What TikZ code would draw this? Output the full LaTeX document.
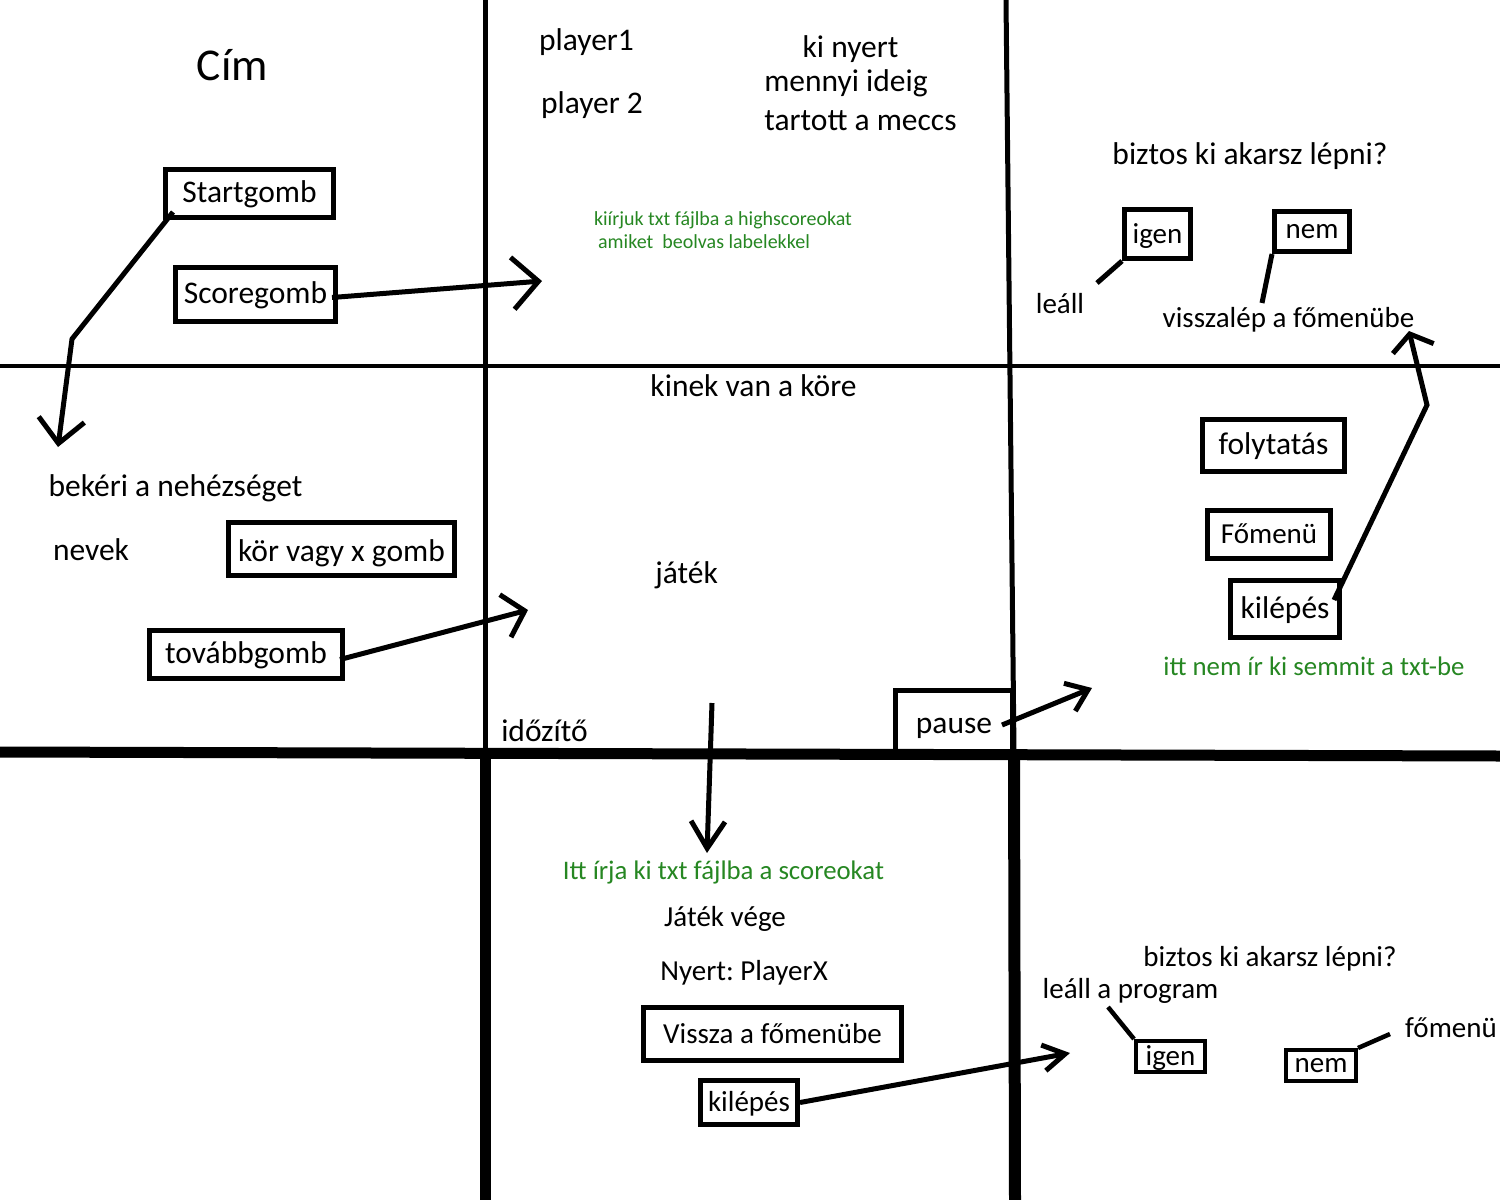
\documentclass[tikz,border=0pt]{standalone}
\usepackage{fontspec}
\setmainfont{Carlito}
\usetikzlibrary{arrows.meta,calc}
\definecolor{notegreen}{RGB}{38,135,34}
\frenchspacing
\begin{document}
\frenchspacing
\begin{tikzpicture}[x=1pt,y=-1pt,
  lbl/.style={anchor=base, inner sep=0pt, font=\fontsize{31.5}{36}\selectfont},
  lblsm/.style={anchor=base, inner sep=0pt, font=\fontsize{29}{34}\selectfont},
  note/.style={anchor=base, inner sep=0pt, text=notegreen, font=\fontsize{26.8}{31}\selectfont},
  btn/.style={draw, line width=5pt, inner sep=0pt, text height=24pt, text depth=6pt, font=\fontsize{31.5}{36}\selectfont},
  btnsm/.style={btn, font=\fontsize{29}{34}\selectfont},
  conn/.style={line width=5pt},
  arr/.style 2 args={-{Straight Barb[length=#1,width=#2]}},
  divider/.style={line width=#1}
]
\useasboundingbox (0,0) rectangle (1500,1200);
\fill[white] (0,0) rectangle (1500,1200);

% texts
\node[lbl, font=\fontsize{45.5}{52}\selectfont] (cim) at (232.5,80) {Cím};
\node[lbl] (p1) at (586.5,50) {player1};
\node[lbl] (p2) at (592,113) {player 2};
\node[lbl] (kinyert) at (850.5,57) {ki nyert};
\node[lbl] (ideig) at (846,91) {mennyi ideig};
\node[lbl] (meccs) at (860.5,130) {tartott a meccs};
\node[note, font=\fontsize{20}{24}\selectfont] (hs1) at (723,225) {kiírjuk txt fájlba a highscoreokat};
\node[note, font=\fontsize{20}{24}\selectfont] (hs2) at (704,248) {amiket\ \ beolvas labelekkel};
\node[lbl] (kore) at (753.5,396) {kinek van a köre};
\node[lbl] (jatek) at (686.6,583) {játék};
\node[lbl] (idozito) at (544.5,741) {időzítő};
\node[lbl] (nehez) at (175.5,496) {bekéri a nehézséget};
\node[lbl] (nevek) at (91,560) {nevek};
\node[lbl] (biztos1) at (1250,164) {biztos ki akarsz lépni?};
\node[lblsm] (leall) at (1060,313) {leáll};
\node[lblsm] (vissza1) at (1288.5,327) {visszalép a főmenübe};
\node[note] (nemir) at (1314,675) {itt nem ír ki semmit a txt-be};
\node[note] (irja) at (723.5,879) {Itt írja ki txt fájlba a scoreokat};
\node[lblsm] (vege) at (725,926.7) {Játék vége};
\node[lblsm] (nyert) at (744,980.7) {Nyert: PlayerX};
\node[lblsm] (biztos2) at (1270,966.7) {biztos ki akarsz lépni?};
\node[lblsm] (leallp) at (1130.5,998) {leáll a program};
\node[lblsm] (fomenu2) at (1451,1037.7) {főmenü};

% buttons
\node[btn, minimum width=168pt, minimum height=48pt] (start) at (249.5,193.5) {Startgomb};
\node[btn, minimum width=160pt, minimum height=54pt] (score) at (255.5,294.5) {Scoregomb};
\node[btn, minimum width=226pt, minimum height=53pt, text depth=0pt] (kor) at (341.5,549) {kör vagy x gomb};
\node[btn, minimum width=193pt, minimum height=48pt] (tovabb) at (246,654.5) {továbbgomb};
\node[btnsm, minimum width=66pt, minimum height=49pt] (igen1) at (1157.5,234) {igen};
\node[btnsm, minimum width=75pt, minimum height=40pt, text height=20pt] (nem1) at (1312,231.5) {nem};
\node[btn, minimum width=142pt, minimum height=52pt] (folyt) at (1273.5,445.5) {folytatás};
\node[btnsm, minimum width=123pt, minimum height=48pt] (fomenu1) at (1269,534.5) {Főmenü};
\node[btn, minimum width=109pt, minimum height=57pt] (kilep1) at (1285,609) {kilépés};
\node[btn, minimum width=117pt, minimum height=61pt, text height=30pt] (pause) at (954,721) {pause};
\node[btnsm, minimum width=258pt, minimum height=53pt] (visszafo) at (772.5,1034) {Vissza a főmenübe};
\node[btnsm, minimum width=97pt, minimum height=44pt] (kilep2) at (749,1102.5) {kilépés};
\node[btnsm, line width=4pt, minimum width=69pt, minimum height=31pt] (igen2) at (1170.5,1056.5) {igen};
\node[btnsm, line width=4pt, minimum width=70pt, minimum height=31pt, text height=20pt] (nem2) at (1321,1065.5) {nem};

% dividers
\draw[divider=4.5pt] (0,366) -- (1500,366);
\draw[divider=5pt] (485.5,0) -- (485.5,752);
\draw[divider=5pt] (1006,0) -- (1014,752);
\draw[divider=11pt] (0,752) -- (1500,756);
\draw[divider=11pt] (485,752) -- (485,1200);
\draw[divider=12pt] (1014,752) -- (1015,1200);

% connector coordinates
\coordinate (b1) at (72,339);
\coordinate (t1) at (58,447);
\coordinate (t2) at (542,281);
\coordinate (t3) at (528,610);
\coordinate (s4) at (712,703);
\coordinate (t4) at (707,853);
\coordinate (t5) at (1092,688);
\coordinate (b6) at (1427,405);
\coordinate (t6) at (1409,331);
\coordinate (t7) at (1070,1053);
\coordinate (e8) at (1097,283);
\coordinate (e9) at (1262,303);
\coordinate (e10) at (1108,1007);
\coordinate (e11) at (1390,1034);

% connectors
\draw[conn, arr={24pt}{46pt}] ($(start.south west)+(10,-8)$) -- (b1) -- (t1);
\draw[conn, arr={26pt}{52pt}] ($(score.east)+(-6,3)$) -- (t2);
\draw[conn, arr={20pt}{44pt}] ($(tovabb.east)+(-5,5)$) -- (t3);
\draw[conn, arr={27pt}{34pt}] (s4) -- (t4);
\draw[conn, arr={20pt}{30pt}] ($(pause.east)+(-13,4)$) -- (t5);
\draw[conn, arr={15pt}{42pt}] ($(kilep1.east)+(-8,-9)$) -- (b6) -- (t6);
\draw[conn, arr={22pt}{26pt}] (kilep2.east) -- (t7);
\draw[conn] (igen1.south west) -- (e8);
\draw[conn] (nem1.south west) -- (e9);
\draw[conn, line width=4.5pt] (igen2.north west) -- (e10);
\draw[conn, line width=4.5pt] (nem2.north east) -- (e11);
\end{tikzpicture}
\end{document}
